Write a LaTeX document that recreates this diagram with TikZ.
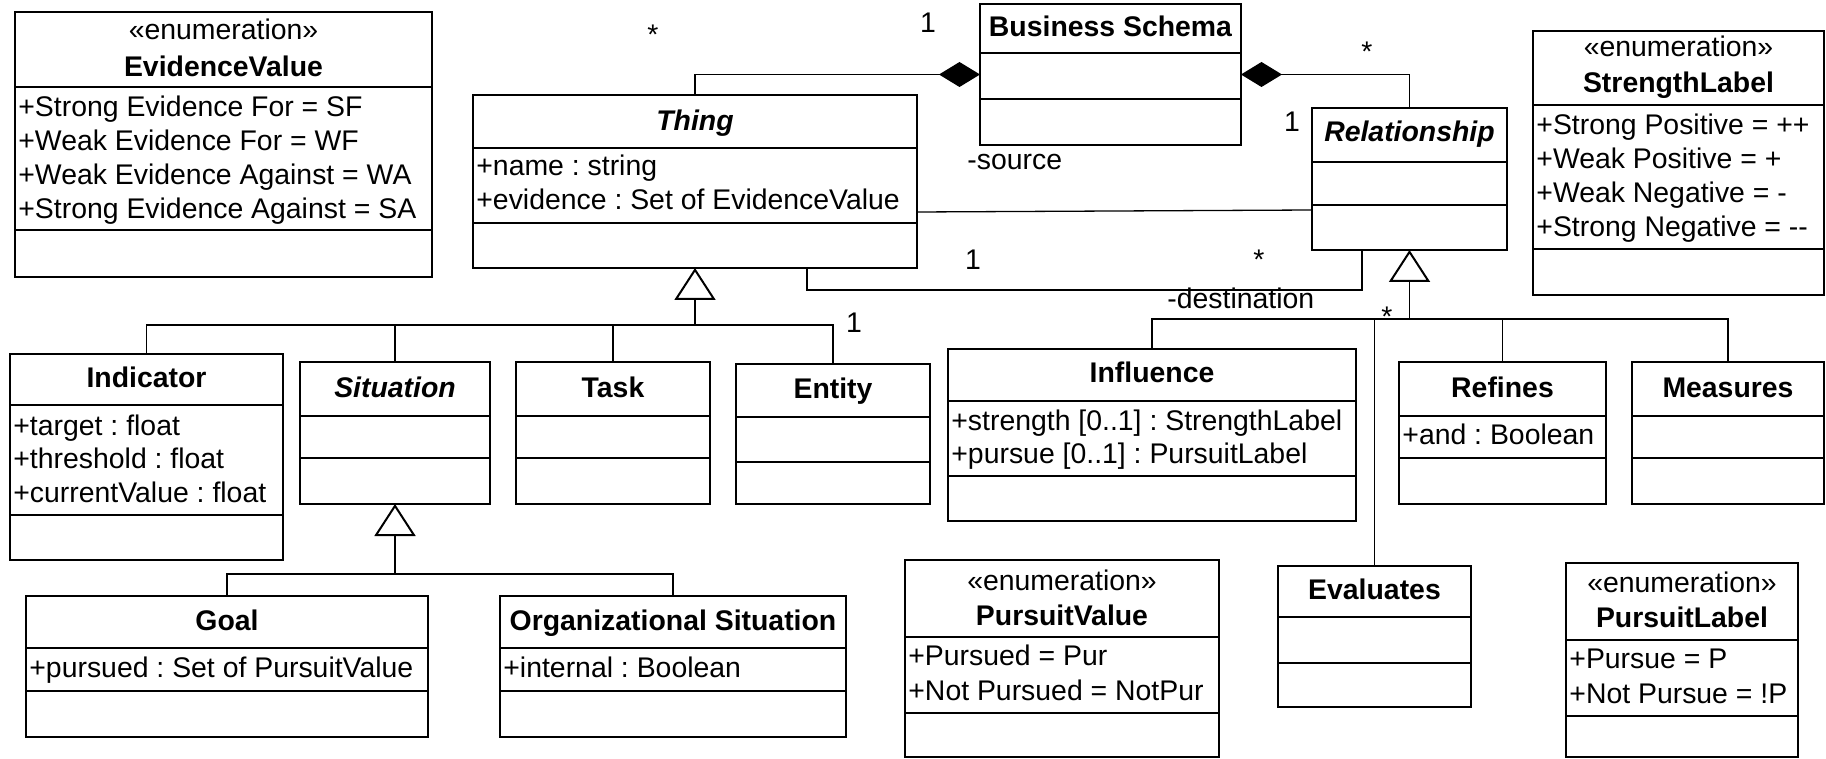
\documentclass[tikz,border=0pt]{standalone}
\usepackage{fontspec}
\setmainfont{Liberation Sans}
\usetikzlibrary{arrows.meta}
\frenchspacing

% class box: name, x1, y1, x2, y2, first and second compartment lines
\newcommand\umlclass[7]{%
  \node[classbox, minimum width={(#4-(#2))*0.5pt}, minimum height={(#5-(#3))*0.5pt}] (#1) at (#2,#3) {};
  \draw[sepline] (#2,#6) -- (#4,#6) (#2,#7) -- (#4,#7);
}

\begin{document}
\frenchspacing
\begin{tikzpicture}[x=0.5pt,y=-0.5pt,
  every node/.style={font=\fontsize{14.2pt}{17pt}\selectfont},
  classbox/.style={draw, line width=1pt, inner sep=0pt, outer sep=0pt, anchor=north west},
  sepline/.style={line width=1pt},
  ttl/.style={anchor=base, inner sep=0pt, font=\fontsize{14.2pt}{17pt}\selectfont\bfseries},
  ttli/.style={anchor=base, inner sep=0pt, font=\fontsize{14.2pt}{17pt}\selectfont\bfseries\itshape},
  stereo/.style={anchor=base, inner sep=0pt},
  attr/.style={anchor=base west, inner sep=0pt},
  mult/.style={anchor=base, inner sep=0pt},
  conn/.style={line width=0.65pt},
  comp/.style={conn, -{Diamond[length=20.5pt, width=12.5pt]}},
  gen/.style={conn, -{Triangle[open, length=16pt, width=20.5pt, line width=1pt]}}
]
\useasboundingbox (0,0) rectangle (1826,759);

% ---------- classes ----------
\umlclass{evid}{15}{12}{432}{277}{87}{230}
\node[stereo] at (223.5,40) {«enumeration»};
\node[ttl] at (223.5,77) {EvidenceValue};
\node[attr] at (18,117) {+Strong Evidence For = SF};
\node[attr] at (18,151) {+Weak Evidence For = WF};
\node[attr] at (18,185) {+Weak Evidence Against = WA};
\node[attr] at (18,219) {+Strong Evidence Against = SA};

\umlclass{thing}{473}{95}{917}{268}{148}{223}
\node[ttli] at (695,131) {Thing};
\node[attr] at (476,176) {+name : string};
\node[attr] at (476,210) {+evidence : Set of EvidenceValue};

\umlclass{bs}{980}{4}{1241}{145}{53}{99}
\node[ttl] at (1110.5,37) {Business Schema};

\umlclass{rel}{1312}{108}{1507}{250}{162}{205}
\node[ttli] at (1409.5,142) {Relationship};

\umlclass{strength}{1533}{31}{1824}{295}{105}{249}
\node[stereo] at (1678.5,57) {«enumeration»};
\node[ttl] at (1678.5,93) {StrengthLabel};
\node[attr] at (1536,135) {+Strong Positive = ++};
\node[attr] at (1536,169) {+Weak Positive = +};
\node[attr] at (1536,203) {+Weak Negative = -};
\node[attr] at (1536,237) {+Strong Negative = -{}-};

\umlclass{ind}{10}{354}{283}{560}{405}{515}
\node[ttl] at (146.5,387) {Indicator};
\node[attr] at (13,435) {+target : float};
\node[attr] at (13,468) {+threshold : float};
\node[attr] at (13,502) {+currentValue : float};

\umlclass{sit}{300}{362}{490}{504}{416}{458}
\node[ttli] at (395,397) {Situation};

\umlclass{task}{516}{362}{710}{504}{416}{458}
\node[ttl] at (613,397) {Task};

\umlclass{ent}{736}{364}{930}{504}{417}{462}
\node[ttl] at (833,398) {Entity};

\umlclass{infl}{948}{349}{1356}{521}{401}{476}
\node[ttl] at (1152,382) {Influence};
\node[attr] at (951,430) {+strength [0..1] : StrengthLabel};
\node[attr] at (951,463) {+pursue [0..1] : PursuitLabel};

\umlclass{ref}{1399}{362}{1606}{504}{416}{458}
\node[ttl] at (1502.5,397) {Refines};
\node[attr] at (1402,444) {+and : Boolean};

\umlclass{meas}{1632}{362}{1824}{504}{416}{458}
\node[ttl] at (1728,397) {Measures};

\umlclass{goal}{26}{596}{428}{737}{648}{691}
\node[ttl] at (227,630) {Goal};
\node[attr] at (29,677) {+pursued : Set of PursuitValue};

\umlclass{org}{500}{596}{846}{737}{648}{691}
\node[ttl] at (673,630) {Organizational Situation};
\node[attr] at (503,677) {+internal : Boolean};

\umlclass{pval}{905}{560}{1219}{757}{637}{713}
\node[stereo] at (1062,590) {«enumeration»};
\node[ttl] at (1062,625) {PursuitValue};
\node[attr] at (908,665) {+Pursued = Pur};
\node[attr] at (908,700) {+Not Pursued = NotPur};

\umlclass{eval}{1278}{566}{1471}{707}{617}{663}
\node[ttl] at (1374.5,599) {Evaluates};

\umlclass{plab}{1566}{563}{1798}{757}{640}{716}
\node[stereo] at (1682,592) {«enumeration»};
\node[ttl] at (1682,627) {PursuitLabel};
\node[attr] at (1569,668) {+Pursue = P};
\node[attr] at (1569,703) {+Not Pursue = !P};

% ---------- compositions ----------
\draw[comp] (thing.north) |- (bs.west);
\draw[comp] (rel.north) |- (bs.east);

% ---------- associations ----------
\draw[conn] (thing.east |- 0,212) -- (rel.west |- 0,210);
\draw[conn] (thing.south -| 807,0) -- ++(0,22) -| (rel.south -| 1362,0);

% ---------- generalizations ----------
\coordinate (gT) at (695,325);
\draw[conn] (ind.north) |- (gT) -| (ent.north);
\draw[conn] (sit.north) -- (sit.north |- gT);
\draw[conn] (task.north) -- (task.north |- gT);
\draw[gen] (gT) -- (thing.south);

\coordinate (gS) at (395,574);
\draw[conn] (goal.north) |- (gS) -| (org.north);
\draw[gen] (gS) -- (sit.south);

\coordinate (gR) at (1409.5,319);
\draw[conn] (infl.north) |- (gR) -| (meas.north);
\draw[conn] (eval.north) -- (eval.north |- gR);
\draw[conn] (ref.north) -- (ref.north |- gR);
\draw[gen] (gR) -- (rel.south);

% ---------- multiplicities and roles ----------
\node[mult] (m1) at (653,45) {*};
\node[mult] (m2) at (928,33) {1};
\node[mult] (m3) at (1367,62) {*};
\node[mult] (m4) at (1292,132) {1};
\node[attr] (r1) at (967,170) {-source};
\node[mult] (m5) at (973,270) {1};
\node[mult] (m6) at (1259,270) {*};
\node[attr] (r2) at (1167,308) {-destination};
\node[mult] (m7) at (1387,327) {*};
\node[mult] (m8) at (854,332) {1};
\end{tikzpicture}
\end{document}
